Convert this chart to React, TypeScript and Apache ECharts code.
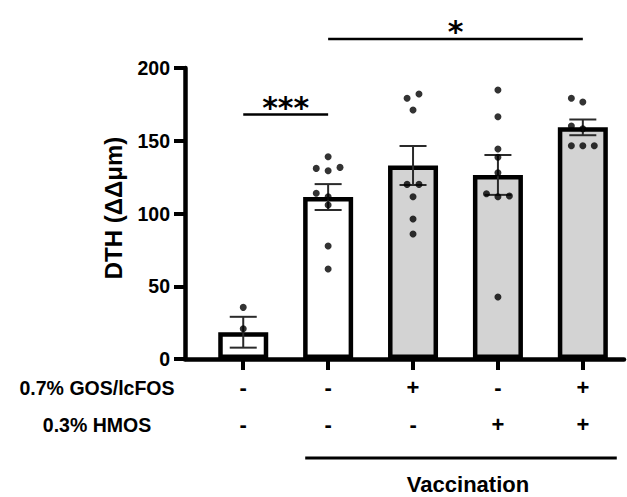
import React, { useEffect, useRef } from "react";
import * as echarts from "echarts";

// ---- data ----
const groups = ["Control", "Vaccination", "Vacc + GOS/lcFOS", "Vacc + HMOS", "Vacc + GOS/lcFOS + HMOS"];
const means = [18.4, 111.3, 133.0, 126.5, 159.2];
const sems = [10.6, 8.9, 13.4, 13.7, 5.4];
const barColors = ["#ffffff", "#ffffff", "#d3d3d3", "#d3d3d3", "#d3d3d3"];
const pointValues = [
  [35.5, 20.8],
  [139, 131, 129.4, 131.7, 113.9, 111.5, 105.8, 77.7, 61.9],
  [179.2, 182.1, 171.1, 120, 120, 111.5, 96.2, 85.9],
  [184.9, 166.5, 144.3, 138.6, 128, 113.6, 111.5, 112, 42.6],
  [179.2, 176.6, 160.1, 158.3, 146.6, 146.6, 146.6],
];
const pointJitter = [
  [0, 0],
  [0, -0.14, 0, 0.14, -0.14, 0, 0, 0, 0],
  [-0.07, 0.07, 0, -0.07, 0.07, 0, 0, 0],
  [0, 0, 0, 0, 0, -0.135, 0, 0.135, 0],
  [-0.135, 0, -0.135, 0, -0.135, 0, 0.135],
];
const yTicks = [0, 50, 100, 150, 200];
const gosRow = ["-", "-", "+", "-", "+"];
const hmosRow = ["-", "-", "-", "+", "+"];
const rowLabels = ["0.7% GOS/lcFOS", "0.3% HMOS"];
const yTitle = "DTH (ΔΔμm)";
const groupLabel = "Vaccination";
// significance: [from group, to group, bracket height (y value), label]
const sigFrom = [0, 1];
const sigTo = [1, 4];
const sigHeight = [168, 220];
const sigLabels = ["***", "*"];
// vaccination bracket span in group units
const vaccSpan = [0.73, 4.4];

const FONT = '"Liberation Sans", Arial, sans-serif';

export default function App() {
  const ref = useRef<HTMLDivElement>(null);
  useEffect(() => {
    if (!ref.current) return;
    const chart = echarts.init(ref.current, undefined, { renderer: "svg" });
    const idx = groups.map((_, i) => i);

    const scatterData: number[][] = [];
    pointValues.forEach((vals, i) => {
      vals.forEach((v, j) => scatterData.push([i + pointJitter[i][j], v]));
    });

    const option: any = {
      animation: false,
      backgroundColor: "#ffffff",
      grid: { left: 185, right: 3, top: 68, bottom: 138, containLabel: false },
      xAxis: {
        type: "value",
        min: -0.686,
        max: 4.485,
        splitLine: { show: false },
        axisLine: { show: true, onZero: false, lineStyle: { color: "#000", width: 4.5 } },
        axisTick: { show: true, customValues: idx, length: 11, lineStyle: { color: "#000", width: 4 } },
        axisLabel: {
          show: true,
          customValues: idx,
          margin: 10,
          formatter: (v: number) => gosRow[Math.round(v)] + "\n" + hmosRow[Math.round(v)],
          fontFamily: FONT,
          fontWeight: "bold",
          fontSize: 22,
          lineHeight: 37,
          color: "#000",
        },
      },
      yAxis: {
        type: "value",
        min: yTicks[0],
        max: yTicks[yTicks.length - 1],
        interval: 50,
        splitLine: { show: false },
        axisLine: { show: true, onZero: false, lineStyle: { color: "#000", width: 4.5 } },
        axisTick: { show: true, length: 11, lineStyle: { color: "#000", width: 4 } },
        axisLabel: { margin: 15, fontFamily: FONT, fontWeight: "bold", fontSize: 19.5, color: "#000" },
      },
      graphic: [
        {
          type: "text",
          x: 113,
          y: 208,
          rotation: Math.PI / 2,
          style: { text: yTitle, font: `bold 24px ${FONT}`, fill: "#000", textAlign: "center", textVerticalAlign: "middle" },
        },
        {
          type: "text",
          x: 97,
          y: 388,
          style: { text: rowLabels[0], font: `bold 19.5px ${FONT}`, fill: "#000", textAlign: "center", textVerticalAlign: "middle" },
        },
        {
          type: "text",
          x: 97,
          y: 425,
          style: { text: rowLabels[1], font: `bold 19.5px ${FONT}`, fill: "#000", textAlign: "center", textVerticalAlign: "middle" },
        },
      ],
      series: [
        {
          type: "bar",
          barWidth: 50,
          data: means.map((m, i) => ({ value: [i, m], itemStyle: { color: barColors[i] } })),
          itemStyle: { borderColor: "#000", borderWidth: 4.5 },
          z: 2,
        },
        {
          type: "custom",
          z: 3,
          data: means.map((m, i) => [i, m, sems[i]]),
          encode: { x: 0, y: 1 },
          renderItem: (params: any, api: any) => {
            const x = api.value(0);
            const m = api.value(1);
            const s = api.value(2);
            const top = api.coord([x, m + s]);
            const bot = api.coord([x, m - s]);
            const h = 13.5;
            const st = { stroke: "#2a2a2a", lineWidth: 2 };
            return {
              type: "group",
              children: [
                { type: "line", shape: { x1: top[0], y1: top[1], x2: bot[0], y2: bot[1] }, style: st },
                { type: "line", shape: { x1: top[0] - h, y1: top[1], x2: top[0] + h, y2: top[1] }, style: st },
                { type: "line", shape: { x1: bot[0] - h, y1: bot[1], x2: bot[0] + h, y2: bot[1] }, style: st },
              ],
            };
          },
        },
        {
          type: "scatter",
          z: 4,
          symbol: "circle",
          symbolSize: 7,
          itemStyle: { color: "#000" },
          data: scatterData,
        },
        {
          type: "custom",
          z: 5,
          clip: false,
          data: sigLabels.map((l, i) => [sigFrom[i], sigTo[i], sigHeight[i], i]),
          encode: { x: [0, 1], y: 2 },
          renderItem: (params: any, api: any) => {
            const a = api.coord([api.value(0), api.value(2)]);
            const b = api.coord([api.value(1), api.value(2)]);
            const label = sigLabels[api.value(3)];
            return {
              type: "group",
              children: [
                { type: "line", shape: { x1: a[0], y1: a[1], x2: b[0], y2: b[1] }, style: { stroke: "#000", lineWidth: 2.5 } },
                {
                  type: "text",
                  x: (a[0] + b[0]) / 2,
                  y: a[1] - 7,
                  style: { text: label, font: 'bold 30px "DejaVu Sans", sans-serif', fill: "#000", textAlign: "center", textVerticalAlign: "middle" },
                },
              ],
            };
          },
        },
        {
          type: "custom",
          z: 5,
          clip: false,
          data: [[vaccSpan[0], vaccSpan[1], 0]],
          encode: { x: [0, 1] },
          renderItem: (params: any, api: any) => {
            const a = api.coord([api.value(0), 0]);
            const b = api.coord([api.value(1), 0]);
            const y = a[1] + 99;
            return {
              type: "group",
              children: [
                { type: "line", shape: { x1: a[0], y1: y, x2: b[0], y2: y }, style: { stroke: "#000", lineWidth: 3 } },
                {
                  type: "text",
                  x: 468,
                  y: y + 26,
                  style: { text: groupLabel, font: `bold 22px ${FONT}`, fill: "#000", textAlign: "center", textVerticalAlign: "middle" },
                },
              ],
            };
          },
        },
      ],
    };
    chart.setOption(option);
    return () => chart.dispose();
  }, []);
  return <div ref={ref} style={{ position: "absolute", left: 0, top: 0, width: 627, height: 497 }} />;
}
